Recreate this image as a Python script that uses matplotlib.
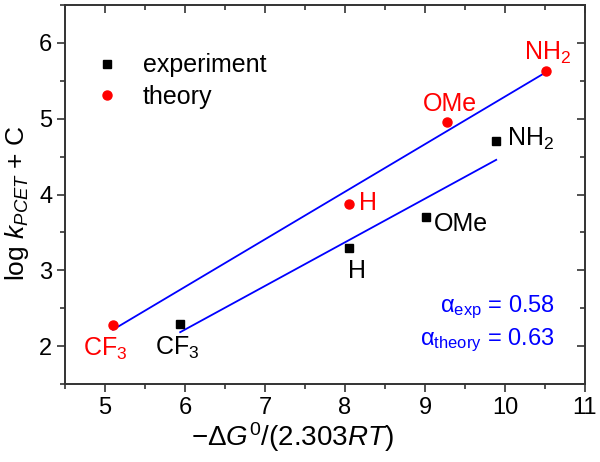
import numpy as np
import matplotlib
matplotlib.use("Agg")
import matplotlib.pyplot as plt
from matplotlib.ticker import MultipleLocator

plt.rcParams['font.family'] = ['Liberation Sans', 'DejaVu Sans']
plt.rcParams['mathtext.fontset'] = 'custom'
plt.rcParams['mathtext.rm'] = 'Liberation Sans'
plt.rcParams['mathtext.it'] = 'Liberation Sans:italic'
plt.rcParams['mathtext.bf'] = 'Liberation Sans:bold'

# Data
labels = ["CF$_3$", "H", "OMe", "NH$_2$"]
x_exp = [5.94, 8.05, 9.01, 9.89]
y_exp = [2.29, 3.29, 3.70, 4.71]
x_th = [5.10, 8.05, 9.27, 10.51]
y_th = [2.28, 3.87, 4.95, 5.63]

# label offsets in pixels (dx to left edge of text, dy to baseline, up positive)
off_th = [(-30, -31), (10, -6), (-24, 11), (-22, 11)]
off_exp = [(-25, -31), (-1, -30), (8, -14), (11, -5)]

fig = plt.figure(figsize=(6.0, 4.62), dpi=100)
ax = fig.add_axes([65/600, 1 - 384/462, 520/600, 379/462])

fs_tick = 17
fs_lab = 18
px = 72 / 100.0

ax.plot(x_exp, y_exp, 's', color='black', ms=5.8, label='experiment', zorder=3)
ax.plot(x_th, y_th, 'o', color='red', ms=6.5, label='theory', zorder=3)

# linear fits
for xs, ys in ((x_exp, y_exp), (x_th, y_th)):
    p = np.polyfit(xs, ys, 1)
    xx = np.array([min(xs), max(xs)])
    ax.plot(xx, np.polyval(p, xx), color='#0000ff', lw=1.3, zorder=2)

for lab, xv, yv, (dx, dy) in zip(labels, x_th, y_th, off_th):
    ax.annotate(lab, (xv, yv), xytext=(dx * px, dy * px), textcoords='offset points',
                ha='left', va='baseline', color='red', fontsize=fs_lab)
for lab, xv, yv, (dx, dy) in zip(labels, x_exp, y_exp, off_exp):
    ax.annotate(lab, (xv, yv), xytext=(dx * px, dy * px), textcoords='offset points',
                ha='left', va='baseline', color='black', fontsize=fs_lab)

ax.text(0.942, 0.190, r"α$_{\mathrm{exp}}$ = 0.58", transform=ax.transAxes,
        ha='right', va='baseline', color='#0000ff', fontsize=17)
ax.text(0.942, 0.103, r"α$_{\mathrm{theory}}$ = 0.63", transform=ax.transAxes,
        ha='right', va='baseline', color='#0000ff', fontsize=17)

ax.set_xlim(4.5, 11)
ax.set_ylim(1.5, 6.5)
ax.xaxis.set_major_locator(MultipleLocator(1))
ax.xaxis.set_minor_locator(MultipleLocator(0.5))
ax.yaxis.set_major_locator(MultipleLocator(1))
ax.yaxis.set_minor_locator(MultipleLocator(0.5))

ax.tick_params(which='both', direction='out', labelsize=fs_tick, width=1.2, colors='#333333',
               labelcolor='black')
ax.tick_params(which='major', length=6, pad=3)
ax.tick_params(which='minor', length=3.5)

sec_x = ax.secondary_xaxis('top')
sec_x.xaxis.set_major_locator(MultipleLocator(1))
sec_x.xaxis.set_minor_locator(MultipleLocator(0.5))
sec_x.tick_params(which='both', direction='in', labeltop=False, width=1.2, colors='#333333')
sec_x.tick_params(which='major', length=6)
sec_x.tick_params(which='minor', length=3.5)
sec_x.spines['top'].set_visible(False)
sec_y = ax.secondary_yaxis('right')
sec_y.yaxis.set_major_locator(MultipleLocator(1))
sec_y.yaxis.set_minor_locator(MultipleLocator(0.5))
sec_y.tick_params(which='both', direction='in', labelright=False, width=1.2, colors='#333333')
sec_y.tick_params(which='major', length=6)
sec_y.tick_params(which='minor', length=3.5)
sec_y.spines['right'].set_visible(False)

for s in ax.spines.values():
    s.set_linewidth(1.4)
    s.set_color('#333333')

ax.set_xlabel(r"$-\Delta G^0$/(2.303$RT$)", fontsize=20, va='baseline')
ax.xaxis.set_label_coords((292 - 65) / 520, (384 - 446) / 379)
ax.set_ylabel(r"log $k_{PCET}$ + C", fontsize=19, va='center')
ax.yaxis.set_label_coords((17 - 65) / 520, (384 - 203) / 379)

ax.legend(loc='center left', bbox_to_anchor=((94.5 - 65) / 520, (384 - 81) / 379),
          frameon=False, fontsize=18, handletextpad=0.94, labelspacing=0.3,
          handlelength=1.0, borderpad=0, borderaxespad=0)

fig.savefig("out.png", dpi=100)
